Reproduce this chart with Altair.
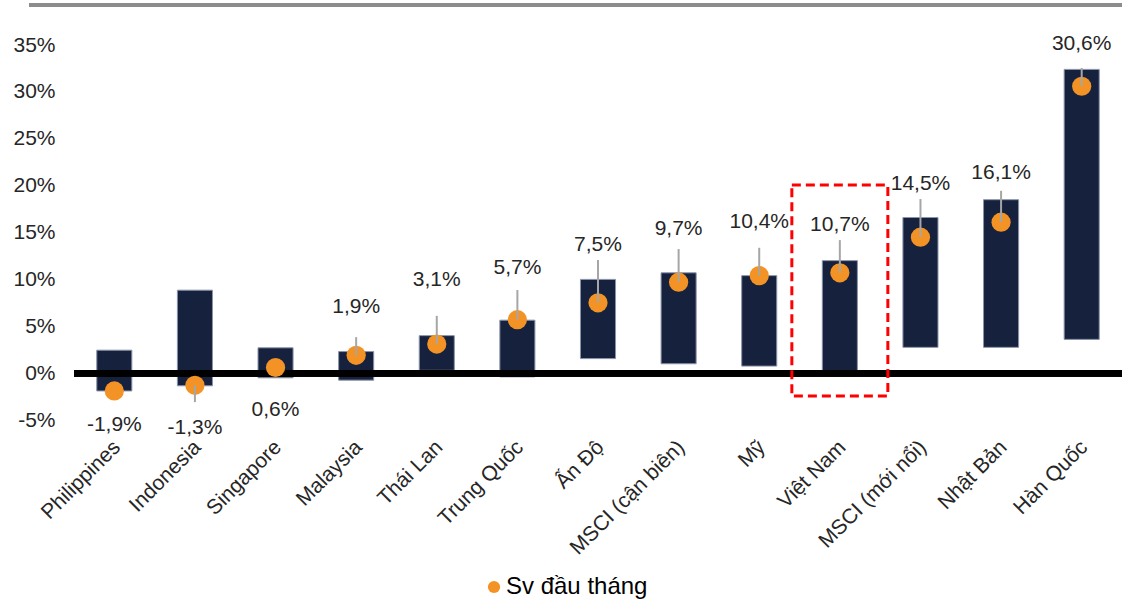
import altair as alt
import pandas as pd

# Markets, in display order
categories = ["Philippines", "Indonesia", "Singapore", "Malaysia", "Thái Lan", "Trung Quốc",
              "Ấn Độ", "MSCI (cận biên)", "Mỹ", "Việt Nam", "MSCI (mới nổi)", "Nhật Bản", "Hàn Quốc"]

# Floating bar: low / high of the range (%)
range_low = [-1.9, -1.35, -0.5, -0.75, 0.3, -0.4, 1.55, 1.0, 0.75, 0.0, 2.75, 2.75, 3.6]
range_high = [2.45, 8.85, 2.7, 2.3, 4.0, 5.65, 10.0, 10.7, 10.4, 12.0, 16.6, 18.5, 32.4]

# Orange dots: value at the start of the month (%)
start_month = [-1.9, -1.3, 0.6, 1.9, 3.1, 5.7, 7.5, 9.7, 10.4, 10.7, 14.5, 16.1, 30.6]

# Label placement (in % units on the y scale) and where each leader line stops
label_at = [-5.55, -5.87, -3.95, 7.04, 9.92, 11.2, 13.66, 15.37, 16.11, 15.79, 20.17, 21.34, 35.1]
leader_to = [None, -3.09, None, 3.84, 6.11, 8.86, 12.06, 13.23, 13.37, 14.19, 18.57, 19.45, 32.55]

SERIES = "Sv đầu tháng"
FONT = "Liberation Sans"
TXT = "#262626"
W, H = 1048, 375

df = pd.DataFrame({
    "cat": categories,
    "low": range_low,
    "high": range_high,
    "val": start_month,
    "label_at": label_at,
    "leader_to": leader_to,
})
df["label"] = [f"{v:.1f}".replace(".", ",") + "%" for v in start_month]
df["series"] = SERIES

x_enc = alt.X("cat:N", sort=categories,
              scale=alt.Scale(paddingInner=0.565, paddingOuter=0.2825),
              axis=alt.Axis(title=None, labelAngle=-45, domain=False, ticks=False,
                            labelPadding=16, labelOffset=-5, labelFontSize=21,
                            labelFont=FONT, labelColor=TXT))
y_scale = alt.Scale(domain=[-5, 35], nice=False, zero=False)
y_axis = alt.Axis(title=None, values=list(range(-5, 40, 5)), labelExpr="datum.value + '%'",
                  grid=False, domain=False, ticks=False, labelPadding=19,
                  labelFontSize=21, labelFont=FONT, labelColor=TXT)

base = alt.Chart(df)

bars = base.mark_bar(color="#16213e", stroke="#8a93a8", strokeWidth=1).encode(
    x=x_enc,
    y=alt.Y("low:Q", scale=y_scale, axis=y_axis),
    y2="high:Q",
)

zero_line = base.mark_rule(color="black", strokeWidth=6).encode(
    y=alt.datum(0),
    x=alt.value(0),
    x2=alt.value(W),
)

dots = base.mark_point(filled=True, size=370, opacity=1).encode(
    x=alt.X("cat:N", sort=categories),
    y=alt.Y("val:Q", scale=y_scale),
    color=alt.Color("series:N",
                    scale=alt.Scale(domain=[SERIES], range=["#f39325"]),
                    legend=alt.Legend(title=None, orient="none", legendX=408, legendY=530,
                                      symbolType="circle", symbolSize=150,
                                      symbolStrokeWidth=0, labelFont=FONT,
                                      labelFontSize=24, labelColor="#000000",
                                      labelOffset=0)),
)

leaders = base.transform_filter("isValid(datum.leader_to)").mark_rule(
    color="#a6a6a6", strokeWidth=2
).encode(
    x=alt.X("cat:N", sort=categories),
    y=alt.Y("val:Q", scale=y_scale),
    y2="leader_to:Q",
)

labels = base.mark_text(font=FONT, fontSize=21, color=TXT, baseline="middle",
                        align="center").encode(
    x=alt.X("cat:N", sort=categories),
    y=alt.Y("label_at:Q", scale=y_scale),
    text="label:N",
)

# dashed highlight around Việt Nam
box_df = pd.DataFrame({"cat": ["Việt Nam"], "top": [20.06], "bottom": [-2.45]})
box = alt.Chart(box_df).mark_bar(size=96, fill="transparent", stroke="#ff0000",
                                 strokeWidth=3, strokeDash=[9, 5]).encode(
    x=alt.X("cat:N", sort=categories),
    y=alt.Y("bottom:Q", scale=y_scale),
    y2="top:Q",
)

top_border = base.mark_rule(color="#8c8c8c", strokeWidth=3).encode(
    y=alt.value(-40),
    x=alt.value(-45),
    x2=alt.value(W),
)

chart = alt.layer(bars, zero_line, dots, leaders, labels, box, top_border).properties(
    width=W,
    height=H,
    padding={"left": 74, "top": 45, "right": 0, "bottom": 179},
    autosize=alt.AutoSizeParams(type="none"),
    background="white",
).configure_view(stroke=None)

chart.save("out.html", embed_options={"renderer": "svg", "actions": False})
